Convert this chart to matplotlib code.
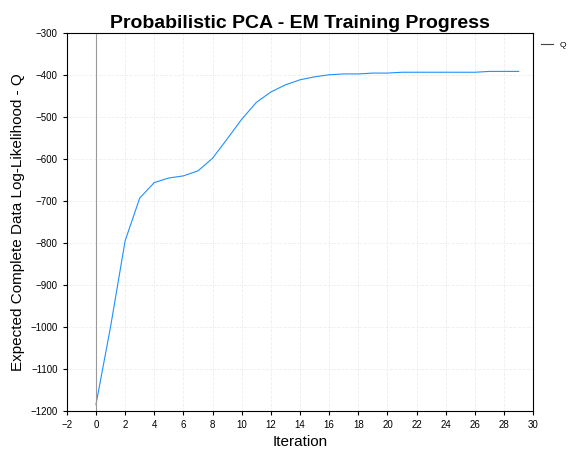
import matplotlib
matplotlib.use("Agg")
import matplotlib.pyplot as plt

plt.rcParams['font.family'] = ['Liberation Sans', 'DejaVu Sans']

iterations = list(range(30))
q_values = [-1185, -1000, -795, -693, -656, -645, -640, -628, -598, -552,
            -505, -465, -440, -423, -411, -404, -399, -397, -397, -395,
            -395, -393, -393, -393, -393, -393, -393, -391, -391, -391]

fig = plt.figure(figsize=(5.86, 4.55), dpi=100)
ax = fig.add_axes([0.114, 0.097, 0.796, 0.83])
line, = ax.plot(iterations, q_values, color="#1e90ff", lw=0.8, label="Q")
ax.axvline(0, color="#999999", lw=0.8)
ax.set_xlim(-2, 30)
ax.set_ylim(-1200, -300)
ax.set_xticks(range(-2, 31, 2))
ax.set_yticks(range(-1200, -299, 100))
ax.tick_params(labelsize=7, length=3)
ax.grid(True, color="#eeeeee", lw=0.6, ls="--")
ax.set_xlabel("Iteration", fontsize=11)
ax.set_ylabel("Expected Complete Data Log-Likelihood - Q", fontsize=11)
ax.set_title("Probabilistic PCA - EM Training Progress", fontsize=14, fontweight="bold", pad=4)
leg = ax.legend(loc="upper left", bbox_to_anchor=(1.0, 1.0), fontsize=6, frameon=False,
                handlelength=1.5)
leg.get_lines()[0].set_color("#444444")
fig.savefig("out.png", dpi=100)
